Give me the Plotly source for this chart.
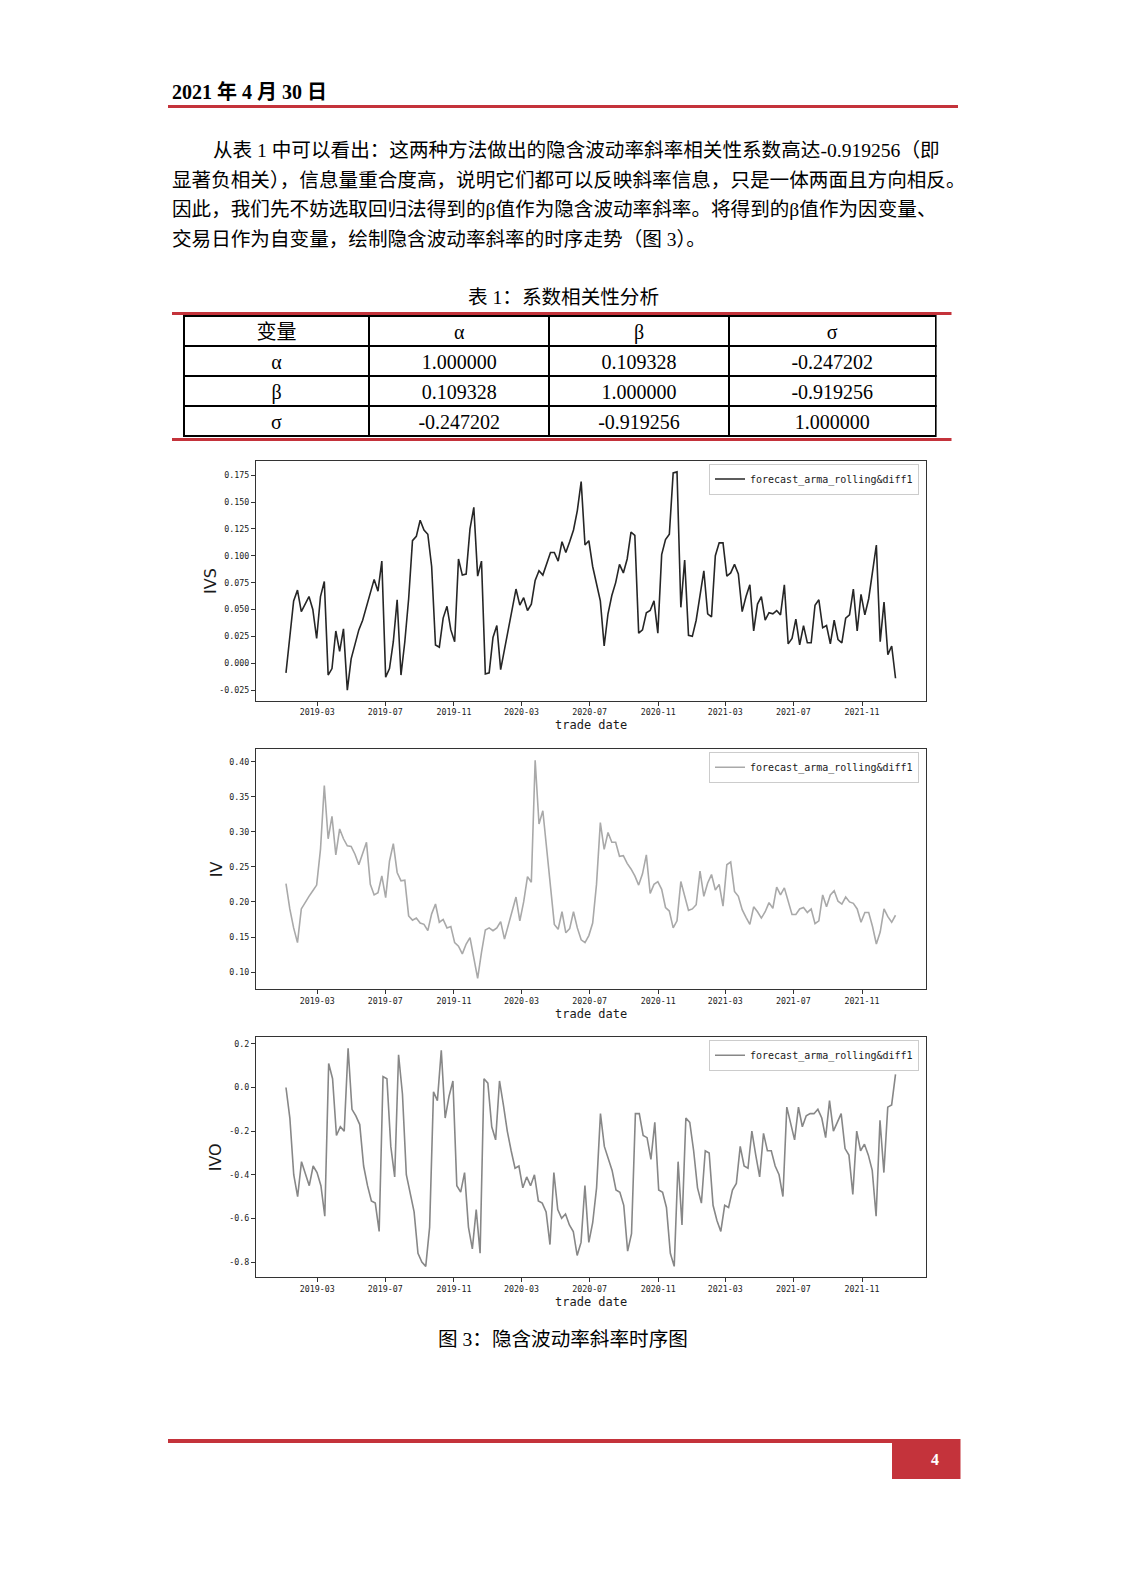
import plotly.graph_objects as go
import pandas as pd

W, H = 1125, 1591

# ---------------- data ----------------
date_start = "2019-01-04"
date_end = "2021-12-31"

ivs_values = [
    -0.009, 0.022, 0.058, 0.068, 0.048, 0.055, 0.062, 0.050, 0.023, 0.062,
    0.076, -0.011, -0.005, 0.030, 0.011, 0.032, -0.025, 0.004, 0.018, 0.031,
    0.040, 0.053, 0.064, 0.078, 0.067, 0.095, -0.013, -0.005, 0.020, 0.059,
    -0.011, 0.020, 0.060, 0.114, 0.118, 0.133, 0.124, 0.120, 0.090, 0.017,
    0.015, 0.042, 0.053, 0.031, 0.020, 0.097, 0.082, 0.083, 0.125, 0.145,
    0.081, 0.095, -0.010, -0.009, 0.024, 0.035, -0.006, 0.012, 0.030, 0.048,
    0.069, 0.054, 0.061, 0.049, 0.055, 0.077, 0.086, 0.082, 0.092, 0.103,
    0.103, 0.095, 0.113, 0.103, 0.113, 0.124, 0.142, 0.169, 0.110, 0.114,
    0.090, 0.073, 0.058, 0.016, 0.046, 0.063, 0.075, 0.092, 0.084, 0.097,
    0.122, 0.119, 0.028, 0.031, 0.047, 0.049, 0.058, 0.028, 0.101, 0.115,
    0.120, 0.177, 0.178, 0.052, 0.096, 0.026, 0.025, 0.040, 0.062, 0.086,
    0.046, 0.043, 0.100, 0.112, 0.112, 0.081, 0.084, 0.092, 0.083, 0.048,
    0.062, 0.073, 0.030, 0.055, 0.062, 0.040, 0.047, 0.046, 0.049, 0.045,
    0.073, 0.018, 0.023, 0.041, 0.017, 0.035, 0.019, 0.019, 0.054, 0.059,
    0.033, 0.035, 0.018, 0.040, 0.022, 0.019, 0.042, 0.045, 0.069, 0.030,
    0.064, 0.045, 0.060, 0.085, 0.110, 0.020, 0.057, 0.008, 0.016, -0.014,
]

iv_values = [
    0.226, 0.190, 0.163, 0.142, 0.190, 0.200, 0.208, 0.216, 0.224, 0.275,
    0.366, 0.290, 0.322, 0.267, 0.304, 0.290, 0.280, 0.279, 0.268, 0.253,
    0.270, 0.285, 0.225, 0.210, 0.213, 0.237, 0.206, 0.258, 0.283, 0.242,
    0.230, 0.231, 0.180, 0.174, 0.177, 0.170, 0.168, 0.159, 0.183, 0.197,
    0.171, 0.175, 0.163, 0.165, 0.142, 0.137, 0.126, 0.140, 0.149, 0.120,
    0.091, 0.128, 0.160, 0.163, 0.159, 0.163, 0.172, 0.147, 0.166, 0.186,
    0.207, 0.173, 0.200, 0.236, 0.228, 0.402, 0.311, 0.330, 0.278, 0.229,
    0.168, 0.161, 0.186, 0.156, 0.162, 0.186, 0.163, 0.146, 0.142, 0.152,
    0.170, 0.225, 0.313, 0.275, 0.299, 0.285, 0.285, 0.265, 0.266, 0.255,
    0.247, 0.237, 0.224, 0.240, 0.267, 0.212, 0.225, 0.229, 0.218, 0.192,
    0.187, 0.163, 0.173, 0.229, 0.210, 0.188, 0.190, 0.196, 0.244, 0.208,
    0.227, 0.239, 0.217, 0.225, 0.194, 0.253, 0.257, 0.215, 0.208, 0.189,
    0.178, 0.168, 0.193, 0.186, 0.177, 0.186, 0.199, 0.191, 0.221, 0.210,
    0.220, 0.201, 0.182, 0.182, 0.190, 0.192, 0.185, 0.190, 0.169, 0.173,
    0.210, 0.193, 0.210, 0.216, 0.201, 0.197, 0.207, 0.200, 0.198, 0.190,
    0.171, 0.185, 0.185, 0.165, 0.140, 0.157, 0.190, 0.179, 0.171, 0.181,
]

ivo_values = [
    0.00, -0.14, -0.40, -0.50, -0.34, -0.39, -0.45, -0.36, -0.39, -0.45,
    -0.59, 0.11, 0.04, -0.22, -0.18, -0.20, 0.18, -0.10, -0.13, -0.17,
    -0.36, -0.45, -0.52, -0.53, -0.66, 0.05, 0.04, -0.27, -0.41, 0.15,
    -0.03, -0.40, -0.49, -0.57, -0.76, -0.80, -0.82, -0.64, -0.02, -0.06,
    0.17, -0.14, -0.04, 0.03, -0.45, -0.48, -0.39, -0.64, -0.74, -0.56,
    -0.76, 0.04, 0.02, -0.18, -0.24, 0.03, -0.08, -0.20, -0.29, -0.37,
    -0.36, -0.46, -0.41, -0.45, -0.40, -0.52, -0.53, -0.57, -0.72, -0.39,
    -0.56, -0.60, -0.58, -0.63, -0.66, -0.77, -0.71, -0.45, -0.71, -0.62,
    -0.46, -0.12, -0.27, -0.32, -0.38, -0.47, -0.48, -0.54, -0.75, -0.67,
    -0.12, -0.12, -0.22, -0.23, -0.33, -0.16, -0.47, -0.48, -0.55, -0.76,
    -0.82, -0.34, -0.63, -0.14, -0.16, -0.29, -0.46, -0.53, -0.29, -0.30,
    -0.54, -0.61, -0.66, -0.54, -0.55, -0.47, -0.44, -0.27, -0.36, -0.37,
    -0.20, -0.31, -0.41, -0.21, -0.29, -0.29, -0.36, -0.40, -0.50, -0.09,
    -0.17, -0.24, -0.09, -0.18, -0.13, -0.12, -0.12, -0.10, -0.14, -0.23,
    -0.06, -0.20, -0.16, -0.12, -0.28, -0.31, -0.49, -0.20, -0.29, -0.26,
    -0.31, -0.38, -0.59, -0.15, -0.39, -0.09, -0.08, 0.06,
]

x_tick_values = ["2019-03-01", "2019-07-01", "2019-11-01", "2020-03-01", "2020-07-01",
                 "2020-11-01", "2021-03-01", "2021-07-01", "2021-11-01"]
x_tick_labels = ["2019-03", "2019-07", "2019-11", "2020-03", "2020-07",
                 "2020-11", "2021-03", "2021-07", "2021-11"]

ivs_ticks = [-0.025, 0.0, 0.025, 0.05, 0.075, 0.1, 0.125, 0.15, 0.175]
ivs_tick_labels = ["-0.025", "0.000", "0.025", "0.050", "0.075", "0.100", "0.125", "0.150", "0.175"]
iv_ticks = [0.10, 0.15, 0.20, 0.25, 0.30, 0.35, 0.40]
iv_tick_labels = ["0.10", "0.15", "0.20", "0.25", "0.30", "0.35", "0.40"]
ivo_ticks = [-0.8, -0.6, -0.4, -0.2, 0.0, 0.2]
ivo_tick_labels = ["-0.8", "-0.6", "-0.4", "-0.2", "0.0", "0.2"]

series_names = ["IVS", "IV", "IVO"]
series_colors = ["#262626", "#a9a9a9", "#878787"]
legend_label = "forecast_arma_rolling&amp;diff1"
x_title = "trade date"

table_header = ["变量", "α", "β", "σ"]
table_row_names = ["α", "β", "σ"]
table_col_alpha = ["1.000000", "0.109328", "-0.247202"]
table_col_beta = ["0.109328", "1.000000", "-0.919256"]
table_col_sigma = ["-0.247202", "-0.919256", "1.000000"]

header_text = "<b>2021 年 4 月 30 日</b>"
paragraph_lines = [
    "从表 1 中可以看出：这两种方法做出的隐含波动率斜率相关性系数高达-0.919256（即",
    "显著负相关），信息量重合度高，说明它们都可以反映斜率信息，只是一体两面且方向相反。",
    "因此，我们先不妨选取回归法得到的β值作为隐含波动率斜率。将得到的β值作为因变量、",
    "交易日作为自变量，绘制隐含波动率斜率的时序走势（图 3）。",
]
table_title = "表 1：系数相关性分析"
figure_caption = "图 3：隐含波动率斜率时序图"
page_number = "4"

# ---------------- layout helpers ----------------
RED = "#c4333b"
TXT_FONT = "Liberation Serif, Noto Sans CJK SC, serif"
MONO = "DejaVu Sans Mono, monospace"
BODY_SIZE = 19.6


def px(x):
    return x / W


def py(y):
    return 1 - y / H


plot_left, plot_right = 255.5, 926.0
plot_boxes = [(461.0, 701.0), (749.3, 989.3), (1037.3, 1277.3)]
ylabel_x = [210, 216, 215]

fig = go.Figure()

series = [ivs_values, iv_values, ivo_values]
tick_sets = [(ivs_ticks, ivs_tick_labels), (iv_ticks, iv_tick_labels), (ivo_ticks, ivo_tick_labels)]

annotations = []
shapes = []

for i, vals in enumerate(series):
    n = i + 1
    sfx = "" if n == 1 else str(n)
    dates = pd.date_range(date_start, date_end, periods=len(vals))
    span = dates[-1] - dates[0]
    x_range = [dates[0] - span * 0.05, dates[-1] + span * 0.05]
    lo, hi = min(vals), max(vals)
    pad = (hi - lo) * 0.05
    y_range = [lo - pad, hi + pad]

    fig.add_trace(go.Scatter(
        x=dates, y=vals, mode="lines",
        line=dict(color=series_colors[i], width=1.6),
        name=legend_label, showlegend=True,
        xaxis="x" + sfx, yaxis="y" + sfx,
        legend="legend" + sfx,
    ))

    top, bot = plot_boxes[i]
    axis_common = dict(
        showline=True, mirror=True, linecolor="#333333", linewidth=1,
        ticks="outside", ticklen=3.5, tickwidth=0.8, tickcolor="#333333",
        showgrid=False, zeroline=False,
        tickfont=dict(family=MONO, size=8.3, color="#1a1a1a"),
    )
    fig.update_layout(**{
        "xaxis" + sfx: dict(
            domain=[px(plot_left), px(plot_right)], anchor="y" + sfx,
            type="date", range=x_range,
            tickmode="array", tickvals=x_tick_values, ticktext=x_tick_labels,
            **axis_common),
        "yaxis" + sfx: dict(
            domain=[py(bot), py(top)], anchor="x" + sfx,
            range=y_range,
            tickmode="array", tickvals=tick_sets[i][0], ticktext=tick_sets[i][1],
            **axis_common),
        "legend" + sfx: dict(
            x=px(plot_right - 7), xanchor="right",
            y=py(top + 2.5), yanchor="top",
            bgcolor="rgba(255,255,255,0.85)", bordercolor="#cccccc", borderwidth=1,
            font=dict(family=MONO, size=10, color="#1a1a1a"),
            itemwidth=30, tracegroupgap=0,
        ),
    })

    annotations.append(dict(
        text=x_title, x=px((plot_left + plot_right) / 2), y=py(bot + 24.5),
        xref="paper", yref="paper", showarrow=False,
        xanchor="center", yanchor="middle",
        font=dict(family=MONO, size=12, color="#1a1a1a")))
    annotations.append(dict(
        text=series_names[i], x=px(ylabel_x[i]), y=py((top + bot) / 2),
        xref="paper", yref="paper", showarrow=False, textangle=-90,
        xanchor="center", yanchor="middle",
        font=dict(family="DejaVu Sans", size=16, color="#1a1a1a")))

# ---------------- table ----------------
fig.add_trace(go.Table(
    domain=dict(x=[px(183.6), px(936.5)], y=[py(437.0), py(316.0)]),
    columnwidth=[186, 180, 180, 207],
    header=dict(values=table_header, height=30, align="center",
                line=dict(color="black", width=2), fill_color="white",
                font=dict(family=TXT_FONT, size=20, color="black")),
    cells=dict(values=[table_row_names, table_col_alpha, table_col_beta, table_col_sigma],
               height=30, align="center",
               line=dict(color="black", width=2), fill_color="white",
               font=dict(family=TXT_FONT, size=20, color="black")),
))

# ---------------- document text ----------------
annotations.append(dict(
    text=header_text, x=px(170), y=py(92), xref="paper", yref="paper",
    showarrow=False, xanchor="left", yanchor="middle",
    font=dict(family=TXT_FONT, size=20, color="black")))

para_y = [150, 180.5, 209.5, 239]
para_x = [211, 170, 170, 170]
for line, yy, xx in zip(paragraph_lines, para_y, para_x):
    annotations.append(dict(
        text=line, x=px(xx), y=py(yy), xref="paper", yref="paper",
        showarrow=False, xanchor="left", yanchor="middle",
        font=dict(family=TXT_FONT, size=BODY_SIZE, color="black")))

annotations.append(dict(
    text=table_title, x=px(563), y=py(297), xref="paper", yref="paper",
    showarrow=False, xanchor="center", yanchor="middle",
    font=dict(family=TXT_FONT, size=BODY_SIZE, color="black")))

annotations.append(dict(
    text=figure_caption, x=px(563), y=py(1339), xref="paper", yref="paper",
    showarrow=False, xanchor="center", yanchor="middle",
    font=dict(family=TXT_FONT, size=BODY_SIZE, color="black")))

annotations.append(dict(
    text="<b>" + page_number + "</b>", x=px(935), y=py(1459), xref="paper", yref="paper",
    showarrow=False, xanchor="center", yanchor="middle",
    font=dict(family=TXT_FONT, size=16, color="white")))


# decorative rules
def hline(y, x0, x1, w):
    return dict(type="line", xref="paper", yref="paper",
                x0=px(x0), x1=px(x1), y0=py(y), y1=py(y),
                line=dict(color=RED, width=w), layer="above")


shapes.append(hline(106.5, 168, 958, 3))
shapes.append(hline(313.5, 172, 951.5, 3))
shapes.append(hline(439.5, 172, 951.5, 3))
shapes.append(hline(1441, 168, 892, 4))
shapes.append(dict(type="rect", xref="paper", yref="paper",
                   x0=px(892), x1=px(960.5), y0=py(1479), y1=py(1439),
                   fillcolor=RED, line=dict(width=0), layer="below"))

fig.update_layout(
    width=W, height=H,
    margin=dict(l=0, r=0, t=0, b=0),
    paper_bgcolor="white", plot_bgcolor="white",
    annotations=annotations, shapes=shapes,
    font=dict(family=TXT_FONT, color="black"),
)

fig.write_html(
    "out.html",
    config={"displayModeBar": False},
    post_script="document.body.style.margin='0';document.body.style.padding='0';",
)
